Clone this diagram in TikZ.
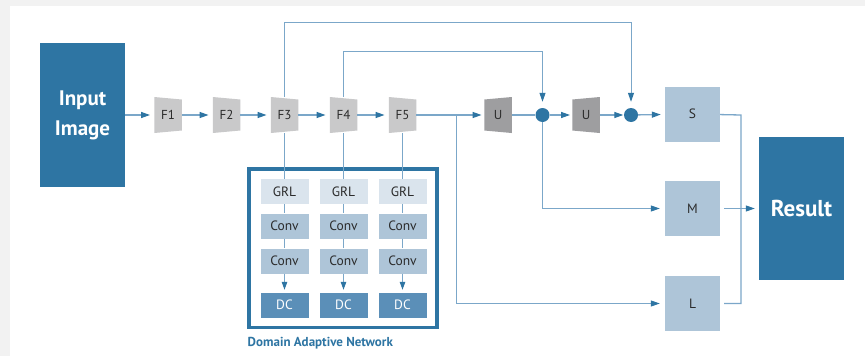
\documentclass[tikz,border=0pt]{standalone}
\usepackage{fontspec}
\setmainfont{PT Sans}
\usetikzlibrary{arrows.meta,calc}
\definecolor{dkblue}{HTML}{2E75A3}
\definecolor{lnblue}{HTML}{7BA7C9}
\definecolor{fgray}{HTML}{C9C9CA}
\definecolor{ugray}{HTML}{9E9EA0}
\definecolor{grlc}{HTML}{DAE4ED}
\definecolor{convc}{HTML}{AEC5D8}
\definecolor{dcc}{HTML}{5B8FB8}
\definecolor{panelgray}{HTML}{F2F2F2}
\definecolor{txt}{HTML}{2B2B2B}
\tikzset{
  bigbox/.style={fill=dkblue, text=white, font=\bfseries\fontsize{21}{30}\selectfont, align=center, inner sep=0pt, minimum width=85pt},
  ftrap/.style={minimum width=27.5pt, minimum height=36pt, inner sep=0pt, text=txt, font=\fontsize{13}{15}\selectfont,
    path picture={\fill[fgray] (path picture bounding box.north west) -- ($(path picture bounding box.north east)+(0pt,-2.5pt)$) -- ($(path picture bounding box.south east)+(0pt,2.5pt)$) -- (path picture bounding box.south west) -- cycle;}},
  utrap/.style={minimum width=27.5pt, minimum height=36pt, inner sep=0pt, text=txt, font=\fontsize{13}{15}\selectfont,
    path picture={\fill[ugray] ($(path picture bounding box.north west)+(0pt,-2.5pt)$) -- (path picture bounding box.north east) -- (path picture bounding box.south east) -- ($(path picture bounding box.south west)+(0pt,2.5pt)$) -- cycle;}},
  dot/.style={circle, fill=dkblue, minimum size=14pt, inner sep=0pt},
  sml/.style={fill=convc, minimum width=55pt, minimum height=55pt, inner sep=0pt, text=txt, font=\fontsize{13.5}{15}\selectfont},
  smallbox/.style={minimum width=48pt, minimum height=25pt, inner sep=0pt, text=txt, font=\fontsize{13.5}{15}\selectfont},
  grlbox/.style={smallbox, fill=grlc},
  convbox/.style={smallbox, fill=convc},
  dcbox/.style={smallbox, fill=dcc, text=white},
  ln/.style={draw=lnblue, line width=1.3pt},
  ar/.style={ln, -{Triangle[length=9pt,width=6pt,color=dkblue]}, shorten >=4pt},
  ars/.style={ln, -{Triangle[length=8pt,width=5.5pt,color=dkblue]}, shorten >=2.5pt},
}
\begin{document}
\begin{tikzpicture}[x=1pt,y=-1pt]
\useasboundingbox (0,0) rectangle (865,356);
\fill[panelgray] (0,0) rectangle (865,356);
\fill[white] (10,6) rectangle (865,356);

% main nodes
\node[bigbox, minimum height=144pt] (inp) at (82.5,115) {Input\\Image};
\node[ftrap] (F1) at (168,115) {F1};
\node[ftrap] (F2) at (226.5,115) {F2};
\node[ftrap] (F3) at (284.5,115) {F3};
\node[ftrap] (F4) at (343.5,115) {F4};
\node[ftrap] (F5) at (402.5,115) {F5};
\node[utrap] (U1) at (498,115) {U};
\node[dot] (c1) at (542.5,115) {};
\node[utrap] (U2) at (586,115) {U};
\node[dot] (c2) at (631,115) {};
\node[sml] (S) at (692.5,114) {S};
\node[sml] (M) at (692.5,208.5) {M};
\node[sml] (L) at (692.5,303.5) {L};
\node[bigbox, minimum height=143pt, font=\bfseries\fontsize{23}{27}\selectfont] (res) at (801.5,208.5) {Result};

% domain adaptive network
\node[draw=dkblue, line width=3.5pt, minimum width=188pt, minimum height=158.5pt, inner sep=0pt] (dan) at (343,248.25) {};
\node[anchor=west, text=dkblue, font=\bfseries\fontsize{13}{15}\selectfont, inner sep=0pt] (danlbl) at (247.5,343.5) {Domain Adaptive Network};

\foreach \i/\x in {3/284.5,4/343.5,5/402.5}{
  \node[grlbox] (g\i) at (\x,191.5) {GRL};
  \node[convbox] (ca\i) at (\x,226) {Conv};
  \node[convbox] (cb\i) at (\x,261) {Conv};
  \node[dcbox] (d\i) at (\x,305) {DC};
  \draw[ln, line width=1pt] (F\i) -- (g\i);
  \draw[ln, line width=1pt] (g\i) -- (ca\i);
  \draw[ln, line width=1pt] (ca\i) -- (cb\i);
  \draw[ars, line width=1pt] (cb\i) -- (d\i);
}

% main chain
\draw[ar] (inp) -- (F1);
\draw[ar] (F1) -- (F2);
\draw[ar] (F2) -- (F3);
\draw[ar] (F3) -- (F4);
\draw[ar] (F4) -- (F5);
\draw[ar, shorten >=2.5pt] (F5) -- (U1);
\draw[ln] (U1) -- (c1);
\draw[ar, shorten >=2pt] (c1) -- (U2);
\draw[ar, shorten >=0.5pt] (U2) -- (c2);
\draw[ar] (c2) -- (S);

% skip connections
\coordinate (t3) at (284.5,22);
\coordinate (t4) at (343.5,51);
\draw[ar, line width=1pt, shorten >=6pt] (F3) -- (t3) -| (c2);
\draw[ar, line width=1pt, shorten >=6pt] (F4) -- (t4) -| (c1);

% branches to M and L
\coordinate (b) at (456,115);
\coordinate (bl) at (456,303.5);
\draw[ar, line width=1pt, shorten >=5pt] (b) -- (bl) -- (L);
\draw[ar, line width=1pt, shorten >=5pt] (c1) |- (M);

% outputs to result
\coordinate (j1) at (741,115);
\coordinate (j2) at (741,303.5);
\draw[ln, line join=miter] (S) -- (j1) -- (j2) -- ([xshift=4pt]L.east);
\draw[ar, line width=1pt] ([xshift=4pt]M.east) -- (res);
\end{tikzpicture}
\end{document}
